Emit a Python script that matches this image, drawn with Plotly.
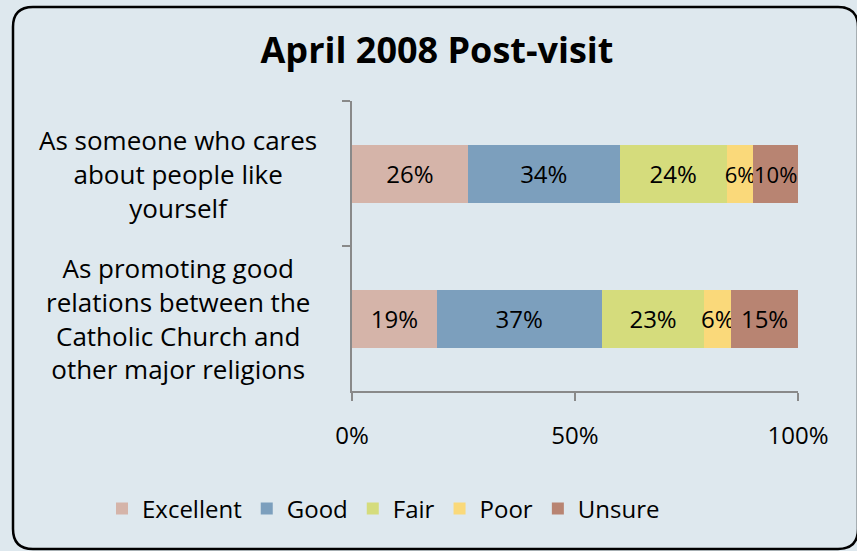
import plotly.graph_objects as go

categories = [
    "As someone who cares<br>about people like<br>yourself",
    "As promoting good<br>relations between the<br>Catholic Church and<br>other major religions",
]
series_names = ["Excellent", "Good", "Fair", "Poor", "Unsure"]
excellent = [26, 19]
good = [34, 37]
fair = [24, 23]
poor = [6, 6]
unsure = [10, 15]
series_values = [excellent, good, fair, poor, unsure]
colors = ["#D5B4A9", "#7C9FBD", "#D5DC7C", "#FAD97A", "#B88472"]
x_ticks = [0, 50, 100]
x_ticklabels = ["0%", "50%", "100%"]
title_text = "April 2008 Post-visit"

W, H = 857, 551
L, R, T, B = 352, 59, 101, 160
PW = W - L - R
PH = H - T - B
BG = "#DEE8EE"
FONT = "Open Sans"

def px(x):
    return (x - L) / PW

def py(y):
    return (H - B - y) / PH

fig = go.Figure()
cat_ids = ["c0", "c1"]
for name, vals, col in zip(series_names, series_values, colors):
    # the two narrow neighbouring segments of the first row get a slightly
    # smaller label so their texts only touch, as in the original
    sizes = [22 if (ci == 0 and name in ("Poor", "Unsure")) else 24
             for ci in range(len(vals))]
    fig.add_trace(go.Bar(
        name=name, y=cat_ids, x=vals, orientation="h",
        marker=dict(color=col, line=dict(width=0)),
        text=[f"{v}%" for v in vals], textposition="inside",
        insidetextanchor="middle", textangle=0, constraintext="none",
        textfont=dict(family=FONT, size=sizes, color="black"),
        hoverinfo="skip",
    ))

for cid, label in zip(cat_ids, categories):
    fig.add_annotation(
        text=label, xref="paper", yref="y", x=px(178), y=cid,
        xanchor="center", yanchor="middle", align="center", showarrow=False,
        font=dict(family=FONT, size=26, color="black"),
    )

# rounded border
x0, x1, y0, y1, r = px(13), px(858), py(7), py(549), 20
rx, ry = r / PW, r / PH
path = (
    f"M {x0+rx},{y0} L {x1-rx},{y0} Q {x1},{y0} {x1},{y0-ry} "
    f"L {x1},{y1+ry} Q {x1},{y1} {x1-rx},{y1} "
    f"L {x0+rx},{y1} Q {x0},{y1} {x0},{y1+ry} "
    f"L {x0},{y0-ry} Q {x0},{y0} {x0+rx},{y0} Z"
)
fig.add_shape(type="path", path=path, xref="paper", yref="paper",
              line=dict(color="black", width=2.5), layer="below")

fig.update_layout(
    width=W, height=H,
    margin=dict(l=L, r=R, t=T, b=B, autoexpand=False),
    barmode="stack", bargap=0.6,
    paper_bgcolor=BG, plot_bgcolor=BG,
    font=dict(family=FONT, color="black"),
    title=dict(text="<b>" + title_text + "</b>", xref="container", yref="container",
               x=437 / W, y=1 - 50 / H, xanchor="center", yanchor="middle",
               font=dict(family=FONT, size=36, color="black")),
    legend=dict(orientation="h", xref="paper", x=px(102), y=py(509), xanchor="left",
                yanchor="middle", font=dict(family=FONT, size=24, color="black"),
                bgcolor="rgba(0,0,0,0)", traceorder="normal", itemwidth=30),
    showlegend=True,
)
fig.update_xaxes(range=[0, 100], tickvals=x_ticks, ticktext=x_ticklabels,
                 showgrid=False, zeroline=False, showline=True,
                 linecolor="#898989", linewidth=2, ticks="outside", ticklen=8,
                 tickwidth=2, tickcolor="#898989", ticklabelstandoff=14,
                 tickfont=dict(family=FONT, size=24, color="black"), fixedrange=True)
fig.update_yaxes(autorange="reversed", showticklabels=False, showgrid=False,
                 zeroline=False, showline=True, linecolor="#898989", linewidth=2,
                 ticks="outside", ticklen=8, tickwidth=2, tickcolor="#898989",
                 tickson="boundaries", fixedrange=True)

fig.write_html(
    "out.html",
    config={"displayModeBar": False, "staticPlot": True},
    post_script="document.body.style.margin='0';document.body.style.background='" + BG + "';",
)
